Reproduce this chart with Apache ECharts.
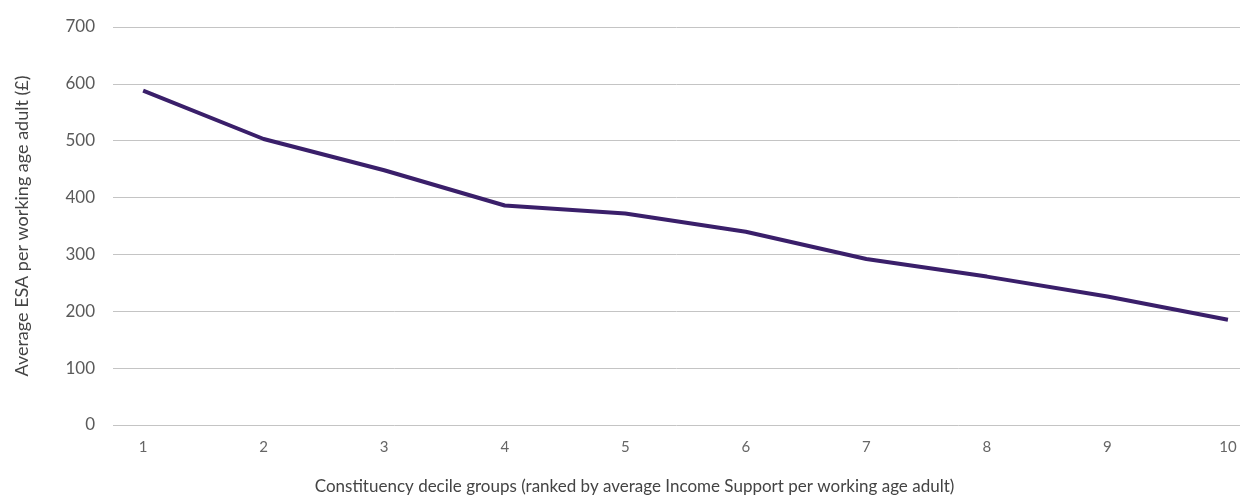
<!DOCTYPE html>
<html>
<head>
<meta charset="utf-8">
<script src="https://cdn.jsdelivr.net/npm/echarts@6/dist/echarts.min.js"></script>
<style>html,body{margin:0;padding:0;background:#fff;}#c{width:1245px;height:500px;}</style>
</head>
<body>
<div id="c"></div>
<script>
const deciles = [1, 2, 3, 4, 5, 6, 7, 8, 9, 10];
const esaValues = [588, 503, 448, 386, 372, 340, 292, 261, 226, 185];
const yTicks = [0, 100, 200, 300, 400, 500, 600, 700];
const xTitle = 'Constituency decile groups (ranked by average Income Support per working age adult)';
const yTitle = 'Average ESA per working age adult (£)';

const chart = echarts.init(document.getElementById('c'), null, {renderer: 'canvas'});
const font = 'Lato, "Open Sans", sans-serif';
chart.setOption({
  animation: false,
  grid: {left: 113, right: 5, top: 27, bottom: 72},
  xAxis: {
    type: 'value', min: 0.75, max: 10.1,
    axisLine: {show: false}, axisTick: {show: false}, splitLine: {show: false},
    axisLabel: {customValues: deciles, color: '#666', fontSize: 15, fontFamily: font, margin: 15},
    name: xTitle, nameLocation: 'middle', nameGap: 53,
    nameTextStyle: {color: '#444', fontSize: 17, fontFamily: font, padding: [0, 84, 0, 0]}
  },
  yAxis: {
    type: 'value', min: yTicks[0], max: yTicks[yTicks.length - 1], interval: 100,
    axisLine: {show: false}, axisTick: {show: false},
    splitLine: {lineStyle: {color: '#c4c4c4', width: 1}},
    axisLabel: {color: '#5a5a5a', fontSize: 17, fontFamily: font, margin: 18},
    name: yTitle, nameLocation: 'middle', nameGap: 82, nameRotate: 90,
    nameTextStyle: {color: '#444', fontSize: 18, fontFamily: font}
  },
  series: [{
    type: 'line',
    data: deciles.map((d, i) => [d, esaValues[i]]),
    showSymbol: false,
    lineStyle: {color: '#3a1f6a', width: 4},
    itemStyle: {color: '#3a1f6a'}
  }]
});
</script>
</body>
</html>
